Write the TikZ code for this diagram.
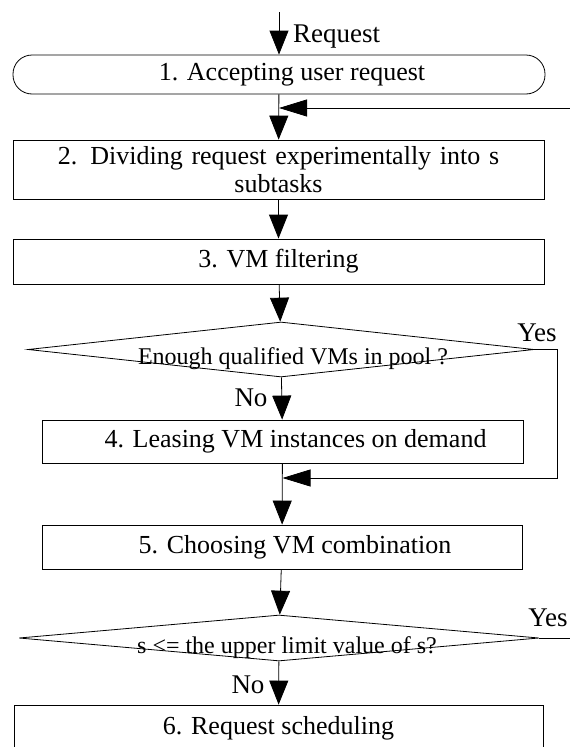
\documentclass[tikz,border=0pt]{standalone}
\usepackage{fontspec}
\setmainfont{Liberation Serif}
\usetikzlibrary{shapes.geometric,arrows.meta}
\begin{document}
\begin{tikzpicture}[x=1pt,y=-1pt,
    box/.style={rectangle, draw, line width=0.8pt, align=center, inner sep=0pt, font=\fontsize{26}{28}\selectfont},
    startbox/.style={box, rounded corners=19pt},
    decision/.style={diamond, draw, line width=0.8pt, inner sep=0pt},
    dtext/.style={inner sep=0pt, font=\fontsize{24}{26}\selectfont},
    lbl/.style={inner sep=0pt, font=\fontsize{27}{29}\selectfont},
    arr/.style={-{Triangle[length=24pt,width=19pt]}, line width=0.8pt},
    harr/.style={-{Triangle[length=28pt,width=17pt]}, line width=0.8pt},
    tshift/.style={execute at begin node={\hspace*{26pt}}}]
    \useasboundingbox (0,0) rectangle (570,747);
    \clip (0,0) rectangle (570,747);
    %Nodes:
    \coordinate (in) at (279,12);
    \node[lbl, anchor=west] (req) at (293,37) {Request};
    \node[startbox, minimum width=532pt, minimum height=39pt, tshift] (s1) at (279,74.5) {1. Accepting user request};
    \coordinate (back) at (570,108);
    \node[box, minimum width=531pt, minimum height=59pt, text width=520pt] (s2) at (278.5,169.5) {2. Dividing request experimentally into s\\ subtasks};
    \node[box, minimum width=531pt, minimum height=45pt] (s3) at (278.5,261.5) {3. VM filtering};
    \node[decision, minimum width=506pt, minimum height=55pt, label={[dtext, xshift=12pt, yshift=-9pt]center:Enough qualified VMs in pool ?}] (q1) at (281,349.5) {};
    \node[lbl] (yes1) at (537,333) {Yes};
    \coordinate (turn1) at (557,349.5);
    \node[lbl] (no1) at (251,398) {No};
    \node[box, minimum width=481pt, minimum height=43pt, tshift] (s4) at (282.5,441.5) {4. Leasing VM instances on demand};
    \coordinate (join) at (282.5,478);
    \node[box, minimum width=480pt, minimum height=44pt, tshift] (s5) at (282,547) {5. Choosing VM combination};
    \node[decision, minimum width=520pt, minimum height=46pt, label={[dtext, xshift=8pt, yshift=-10pt]center:s <= the upper limit value of s?}] (q2) at (279,638) {};
    \node[lbl] (yes2) at (548,618) {Yes};
    \coordinate (out2) at (570,638);
    \node[lbl] (no2) at (248,685) {No};
    \node[box, minimum width=529pt, minimum height=46pt] (s6) at (278.5,728) {6. Request scheduling};
    %Edges:
    \draw[arr] (in) -- (s1);
    \draw[arr] (s1) -- (s2);
    \draw[harr] (back) -- (back -| s1.south);
    \draw[arr] (s2) -- (s3);
    \draw[arr] (s3) -- (q1);
    \draw[arr] (q1) -- (s4);
    \draw[harr] (q1.east) -- (turn1) |- (join);
    \draw[arr] (s4) -- (s5);
    \draw[arr] (s5) -- (q2);
    \draw (q2.east) -- (out2);
    \draw[arr] (q2) -- (s6);
\end{tikzpicture}
\end{document}
